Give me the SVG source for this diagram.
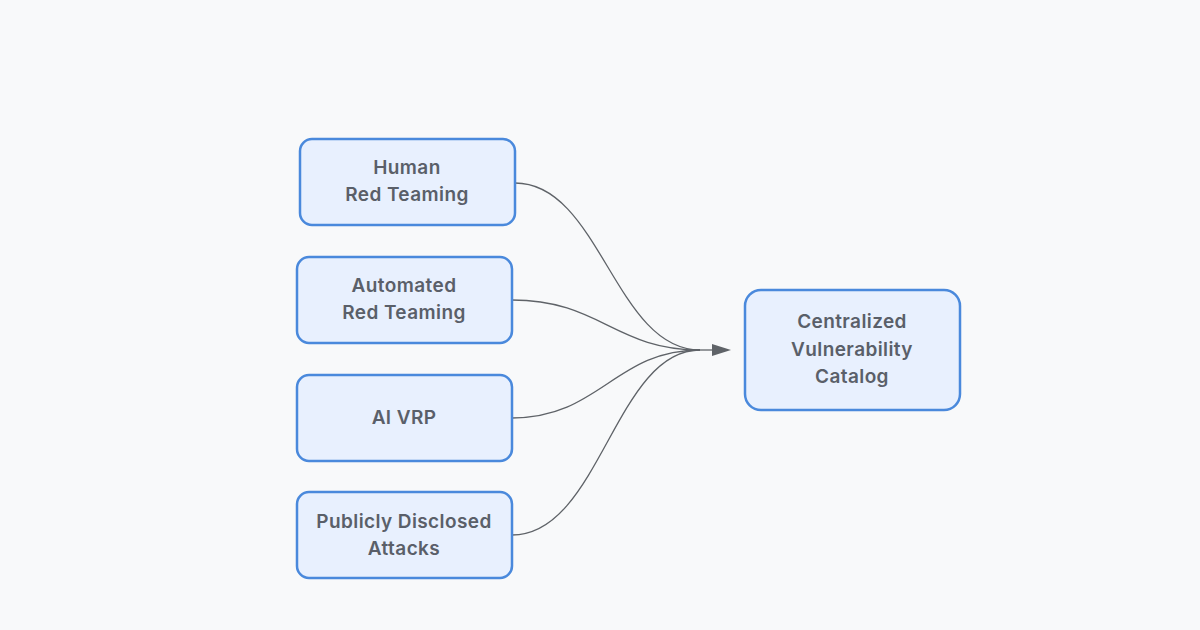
<svg xmlns="http://www.w3.org/2000/svg" width="1200" height="630" viewBox="0 0 1200 630">
<style>
.box{fill:#e8f0fe;stroke:#4a89dc;stroke-width:2.5}
.lbl{font-family:Inter,"Noto Sans",sans-serif;font-size:19px;font-weight:600;fill:#5a5f69;text-anchor:middle;letter-spacing:0.4px}
.edge{fill:none;stroke:#5f6368;stroke-width:1.3}
</style>
<defs>
<marker id="arr" markerWidth="20" markerHeight="14" refX="0" refY="7" orient="auto" markerUnits="userSpaceOnUse">
<path d="M0,1 L19,7 L0,13 Z" fill="#5f6368"/>
</marker>
</defs>
<rect width="1200" height="630" fill="#f8f9fa"/>
<g id="connectors">
<path class="edge" d="M515,183 C600,183 615,350 700,350"/>
<path class="edge" d="M512,300 C600,300 615,350 700,350"/>
<path class="edge" d="M512,418 C600,418 615,350 700,350"/>
<path class="edge" d="M512,535 C600,535 615,350 700,350"/>
<path class="edge" d="M700,350 L712,350" marker-end="url(#arr)"/>
</g>
<g id="human">
<rect class="box" x="300" y="139" width="215" height="86" rx="12"/>
<text class="lbl" x="407" y="174">Human</text>
<text class="lbl" x="407" y="201">Red Teaming</text>
</g>
<g id="automated">
<rect class="box" x="297" y="257" width="215" height="86" rx="12"/>
<text class="lbl" x="404" y="292">Automated</text>
<text class="lbl" x="404" y="319">Red Teaming</text>
</g>
<g id="aivrp">
<rect class="box" x="297" y="375" width="215" height="86" rx="12"/>
<text class="lbl" x="404" y="424">AI VRP</text>
</g>
<g id="public">
<rect class="box" x="297" y="492" width="215" height="86" rx="12"/>
<text class="lbl" x="404" y="528">Publicly Disclosed</text>
<text class="lbl" x="404" y="555">Attacks</text>
</g>
<g id="catalog">
<rect class="box" x="745" y="290" width="215" height="120" rx="16"/>
<text class="lbl" x="852" y="328">Centralized</text>
<text class="lbl" x="852" y="356">Vulnerability</text>
<text class="lbl" x="852" y="383">Catalog</text>
</g>
</svg>
